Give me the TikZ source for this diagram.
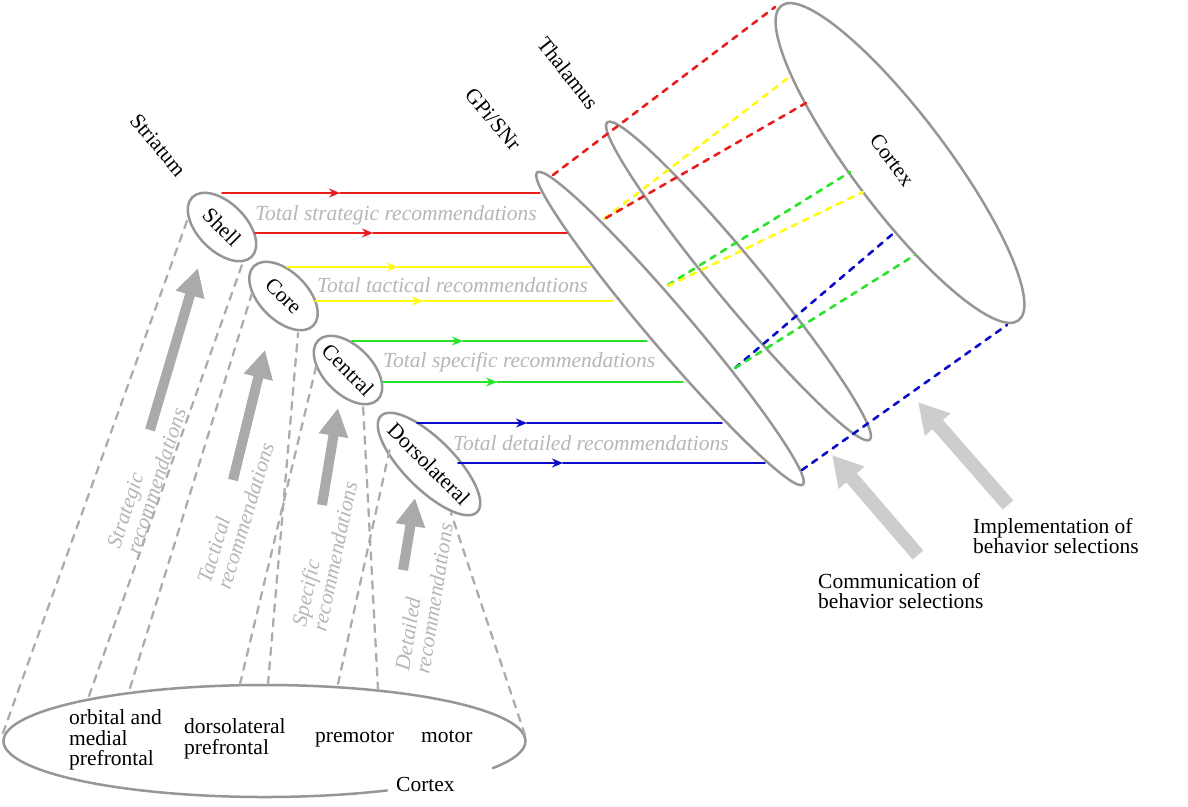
\documentclass[tikz,border=0pt]{standalone}
\usepackage{fontspec}
\setmainfont{Liberation Serif}
\usetikzlibrary{arrows.meta,shapes.geometric}
\definecolor{ringgray}{RGB}{150,150,150}
\definecolor{dashgray}{RGB}{172,172,172}
\definecolor{arrgray}{RGB}{170,170,170}
\definecolor{palegray}{RGB}{205,205,205}
\definecolor{notegray}{RGB}{182,182,182}
\definecolor{cred}{RGB}{232,30,30}
\definecolor{cyel}{RGB}{255,250,20}
\definecolor{cgrn}{RGB}{40,228,40}
\definecolor{cblu}{RGB}{10,10,200}
\begin{document}
\begin{tikzpicture}[line cap=round,line join=round,>={Stealth[length=11pt,width=9pt]},x=1pt,y=-1pt,
    every node/.style={font=\fontsize{21.5}{20.5}\selectfont,inner sep=0pt},
    area/.style={draw=ringgray,line width=2.5pt},
    part/.style={area,ellipse,rotate=-45,inner xsep=-6pt,minimum width=84pt,minimum height=48pt},
    proj/.style={draw=dashgray,line width=2.3pt,dash pattern=on 7.5pt off 7pt},
    flow/.style={line width=1.9pt},
    relay/.style={line width=2.6pt,dash pattern=on 6pt off 6.5pt},
    sel/.style={draw=arrgray,line width=10pt,line cap=butt,-{Triangle[length=28pt,width=28pt]}},
    act/.style={draw=palegray,line width=14pt,line cap=butt,-{Triangle[length=30pt,width=32pt]}},
    note/.style={text=notegray,font=\fontsize{21.5}{20.5}\selectfont\itshape,align=left}]
    \useasboundingbox (0,0) rectangle (1188,806);
    % cortex below
    \coordinate (base) at (264.5,741);
    \draw[area] (base) ++(62:261 and 56) arc[start angle=62,end angle=389,x radius=261,y radius=56];
    \node[anchor=north west,align=left] (ofc) at (69,709.5) {orbital and\\medial\\prefrontal};
    \node[anchor=north west,align=left] (dlpfc) at (184,718.5) {dorsolateral\\prefrontal};
    \node[anchor=base west] (pmc) at (315,742) {premotor};
    \node[anchor=base west] (mc) at (421,742) {motor};
    \node[anchor=base west] (ctxlow) at (396,791) {Cortex};
    % striatum
    \node[rotate=-50] (striatum) at (158,145) {Striatum};
    \node[part] (shell) at (222,227) {Shell};
    \node[part] (core) at (283.5,296) {Core};
    \node[part] (central) at (348,370) {Central};
    \node[part,minimum width=136pt,minimum height=50pt] (dorso) at (429,464) {Dorsolateral};
    % projections cortex -> striatum
    \coordinate (pA) at (3,733);   \coordinate (qA) at (188,218);
    \coordinate (pB) at (89,696);  \coordinate (qB) at (243,262);
    \coordinate (pC) at (130,688); \coordinate (qC) at (252,293);
    \coordinate (pD) at (240,684); \coordinate (qD) at (316,367);
    \coordinate (pE) at (268,684); \coordinate (qE) at (298,333);
    \coordinate (pF) at (338,684); \coordinate (qF) at (390,448);
    \coordinate (pG) at (378,690); \coordinate (qG) at (363,405);
    \coordinate (pH) at (525,735); \coordinate (qH) at (451,513);
    \draw[proj] (pA) -- (qA);
    \draw[proj] (pB) -- (qB);
    \draw[proj] (pC) -- (qC);
    \draw[proj] (pD) -- (qD);
    \draw[proj] (pE) -- (qE);
    \draw[proj] (pF) -- (qF);
    \draw[proj] (pG) -- (qG);
    \draw[proj] (pH) -- (qH);
    \draw[sel] (150,430) -- (198,268);
    \draw[sel] (233,480) -- (265,350);
    \draw[sel] (322,505) -- (338,408);
    \draw[sel] (403,570) -- (415,498);
    \node[note,rotate=72] (stratrec) at (146.5,478) {Strategic\\recommendations};
    \node[note,rotate=73] (tactrec) at (235.5,513) {Tactical\\recommendations};
    \node[note,rotate=78] (specrec) at (324.5,554) {Specific\\recommendations};
    \node[note,rotate=81] (detrec) at (424,597) {Detailed\\recommendations};
    % GPi/SNr, thalamus, cortex
    \node[area,ellipse,minimum width=410pt,minimum height=42pt,rotate=-49.6] (gpi) at (670,328.5) {};
    \node[area,ellipse,minimum width=412pt,minimum height=46pt,rotate=-50.4] (thal) at (738.5,281) {};
    \node[area,ellipse,minimum width=394pt,minimum height=94pt,rotate=-53] (ctx) at (900,163) {};
    \node[rotate=-50] (gpilbl) at (493,119) {GPi/SNr};
    \node[rotate=-52] (thallbl) at (568,73) {Thalamus};
    \node[rotate=-53] (ctxlbl) at (892,160) {Cortex};
    % striatum -> GPi/SNr
    \coordinate (r1) at (222,193); \coordinate (r1m) at (340,193); \coordinate (r1e) at (540,193);
    \coordinate (r2) at (255,233); \coordinate (r2m) at (373,233); \coordinate (r2e) at (567,233);
    \coordinate (y1) at (287,267); \coordinate (y1m) at (398,267); \coordinate (y1e) at (590,267);
    \coordinate (y2) at (315,301); \coordinate (y2m) at (423,301); \coordinate (y2e) at (613,301);
    \coordinate (g1) at (352,341); \coordinate (g1m) at (463,341); \coordinate (g1e) at (647,341);
    \coordinate (g2) at (383,382); \coordinate (g2m) at (497,382); \coordinate (g2e) at (683,382);
    \coordinate (b1) at (417,423); \coordinate (b1m) at (527,423); \coordinate (b1e) at (722,423);
    \coordinate (b2) at (458,463); \coordinate (b2m) at (563,463); \coordinate (b2e) at (765,463);
    \draw[flow,cred,->] (r1) -- (r1m); \draw[flow,cred] (r1m) -- (r1e);
    \draw[flow,cred,->] (r2) -- (r2m); \draw[flow,cred] (r2m) -- (r2e);
    \draw[flow,cyel,->] (y1) -- (y1m); \draw[flow,cyel] (y1m) -- (y1e);
    \draw[flow,cyel,->] (y2) -- (y2m); \draw[flow,cyel] (y2m) -- (y2e);
    \draw[flow,cgrn,->] (g1) -- (g1m); \draw[flow,cgrn] (g1m) -- (g1e);
    \draw[flow,cgrn,->] (g2) -- (g2m); \draw[flow,cgrn] (g2m) -- (g2e);
    \draw[flow,cblu,->] (b1) -- (b1m); \draw[flow,cblu] (b1m) -- (b1e);
    \draw[flow,cblu,->] (b2) -- (b2m); \draw[flow,cblu] (b2m) -- (b2e);
    \node[note,anchor=west] (tstrat) at (255,215) {Total strategic recommendations};
    \node[note,anchor=west] (ttact) at (317,285) {Total tactical recommendations};
    \node[note,anchor=west] (tspec) at (383,362) {Total specific recommendations};
    \node[note,anchor=west] (tdet) at (453,443) {Total detailed recommendations};
    % GPi/SNr -> thalamus -> cortex
    \coordinate (dr1) at (553,175); \coordinate (er1) at (775,7);
    \coordinate (dr2) at (606,218); \coordinate (er2) at (806,103);
    \coordinate (dy1) at (604,219); \coordinate (ey1) at (792,75);
    \coordinate (dy2) at (668,286); \coordinate (ey2) at (863,192);
    \coordinate (dg1) at (668,285); \coordinate (eg1) at (850,172);
    \coordinate (dg2) at (735,368); \coordinate (eg2) at (915,255);
    \coordinate (db1) at (735,368); \coordinate (eb1) at (895,232);
    \coordinate (db2) at (802,470); \coordinate (eb2) at (1007,325);
    \draw[relay,cred] (dr1) -- (er1);
    \draw[relay,cyel] (dy1) -- (ey1);
    \draw[relay,cred] (dr2) -- (er2);
    \draw[relay,cgrn] (dg1) -- (eg1);
    \draw[relay,cyel] (dy2) -- (ey2);
    \draw[relay,cblu] (db1) -- (eb1);
    \draw[relay,cgrn] (dg2) -- (eg2);
    \draw[relay,cblu] (db2) -- (eb2);
    % selections
    \draw[act] (918,555) -- (832,455);
    \draw[act] (1008,505) -- (918,402);
    \node[anchor=north west,align=left] (comm) at (818,573) {Communication of\\behavior selections};
    \node[anchor=north west,align=left] (impl) at (973,518) {Implementation of\\behavior selections};
\end{tikzpicture}
\end{document}
